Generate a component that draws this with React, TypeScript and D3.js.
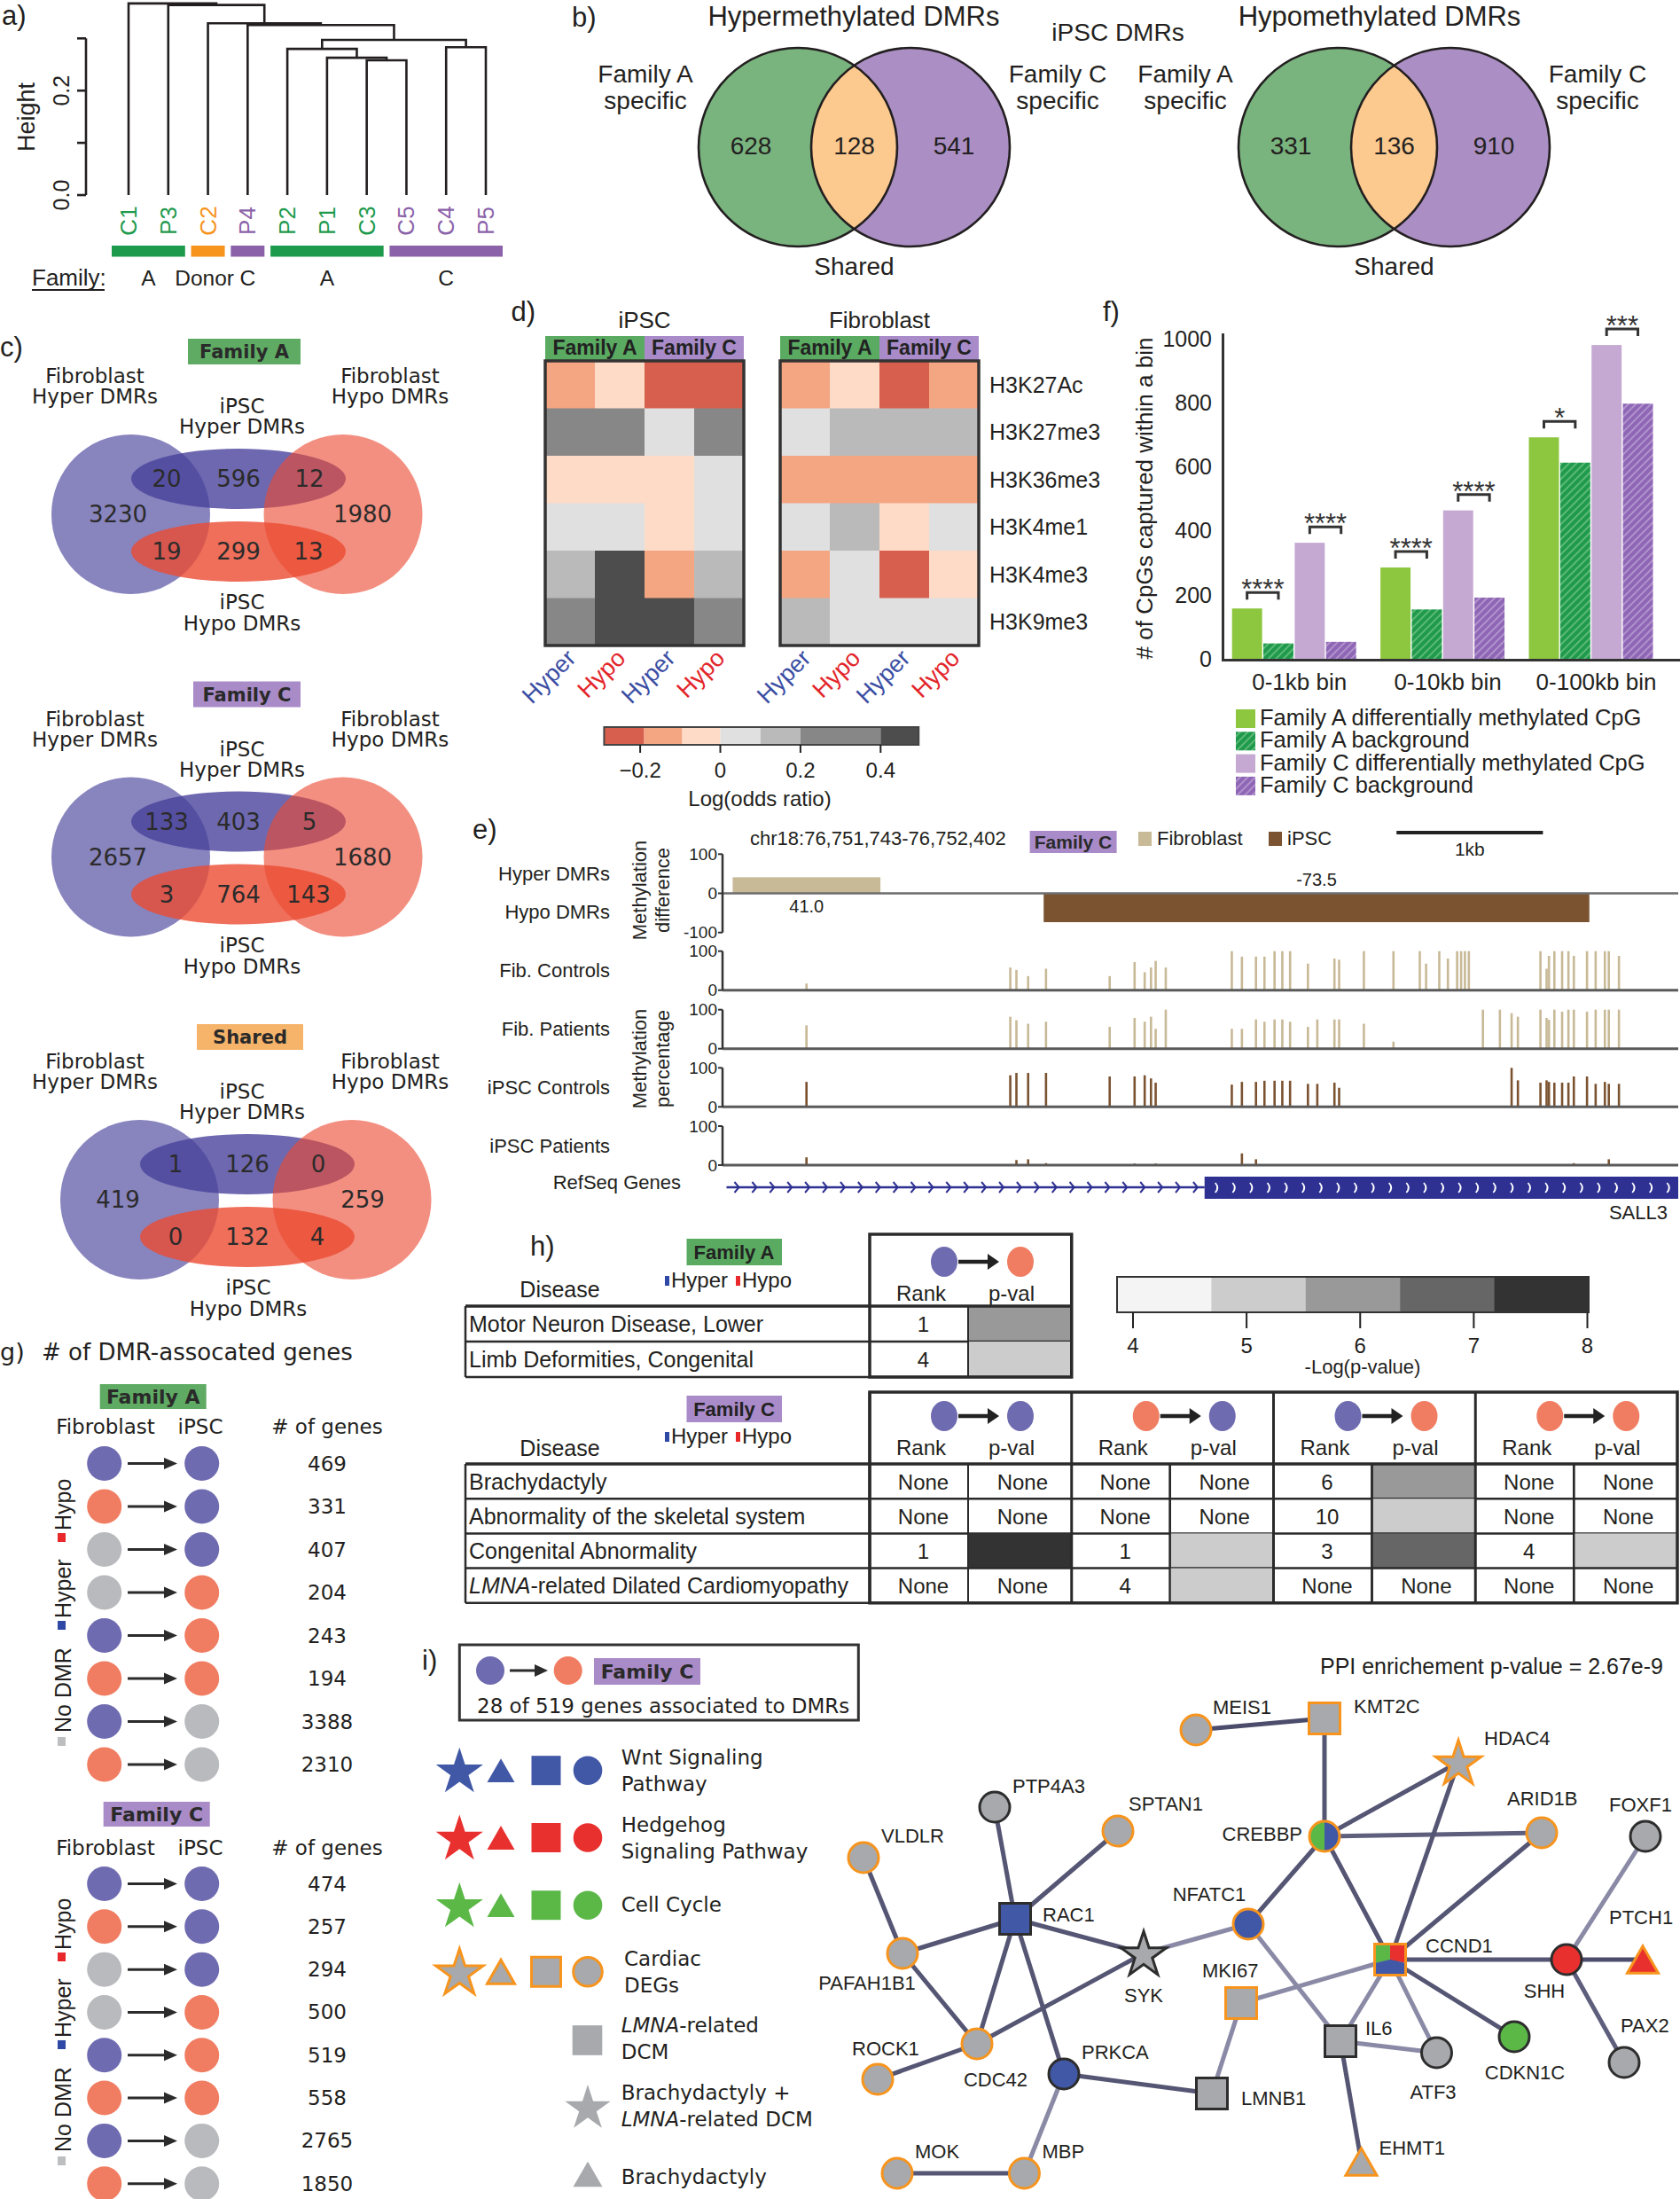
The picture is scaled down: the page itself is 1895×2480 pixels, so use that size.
import React from "react";
import * as d3 from "d3";

const SANS = "'Liberation Sans', Arial, Helvetica, sans-serif";
const WIDE = "'DejaVu Sans', Verdana, sans-serif";
const INK = "#231f20";

/* ---------------- a) dendrogram ---------------- */
const leafNames = ["C1", "P3", "C2", "P4", "P2", "P1", "C3", "C5", "C4", "P5"];
const leafFamily = ["A", "A", "D", "C", "A", "A", "A", "C", "C", "C"];
const mergeLeft = [-7, -6, -5, -9, 3, -4, -3, -2, -1];
const mergeRight = [-8, 1, 2, -10, 4, 5, 6, 7, 8];
const mergeHeight = [0.258, 0.263, 0.28, 0.283, 0.297, 0.3255, 0.329, 0.364, 0.367];
const heightTicks = [0, 0.1, 0.2, 0.3];
const heightTickLabels = ["0.0", "", "0.2", ""];
const famGroupLabel = ["A", "Donor", "C", "A", "C"];
const famGroupKey = ["A", "D", "C", "A", "C"];
const famGroupFirst = [0, 2, 3, 4, 7];
const famGroupLast = [1, 2, 3, 6, 9];
const famColor: any = { A: "#1e9a4c", D: "#f7941d", C: "#8b62a9" };

/* ---------------- b) ---------------- */
const bTitles = ["Hypermethylated DMRs", "Hypomethylated DMRs"];
const bFamilyASpecific = [628, 331];
const bShared = [128, 136];
const bFamilyCSpecific = [541, 910];

/* ---------------- c) ---------------- */
const cTitles = ["Family A", "Family C", "Shared"];
const cTitleColors = ["#5fab64", "#a98bc8", "#f6b46a"];
const cFibHyperOnly = [3230, 2657, 419];
const cFibHypoOnly = [1980, 1680, 259];
const cIpscHyperOnly = [596, 403, 126];
const cIpscHypoOnly = [299, 764, 132];
const cFibHyperIpscHyper = [20, 133, 1];
const cFibHypoIpscHyper = [12, 5, 0];
const cFibHyperIpscHypo = [19, 3, 0];
const cFibHypoIpscHypo = [13, 143, 4];

/* ---------------- d) ---------------- */
const histMarks = ["H3K27Ac", "H3K27me3", "H3K36me3", "H3K4me1", "H3K4me3", "H3K9me3"];
const dColumns = ["Hyper", "Hypo", "Hyper", "Hypo"];
const ipscLogOR = [
  [-0.15, -0.05, -0.25, -0.25],
  [0.3, 0.3, 0.05, 0.3],
  [-0.05, -0.05, -0.05, 0.05],
  [0.05, 0.05, -0.05, 0.05],
  [0.15, 0.45, -0.15, 0.15],
  [0.3, 0.45, 0.45, 0.3],
];
const fibLogOR = [
  [-0.15, -0.05, -0.25, -0.15],
  [0.05, 0.15, 0.15, 0.15],
  [-0.15, -0.15, -0.15, -0.15],
  [0.05, 0.15, -0.05, 0.05],
  [-0.15, 0.05, -0.25, -0.05],
  [0.15, 0.05, 0.05, 0.05],
];
const orBreaks = [-0.19, -0.095, 0, 0.1, 0.2, 0.4];
const orColors = ["#d6604d", "#f4a582", "#fddbc7", "#e0e0e0", "#bababa", "#878787", "#4d4d4d"];
const orExtent = [-0.29, 0.495];
const orTicks = [-0.2, 0, 0.2, 0.4];
const orTickLabels = ["\u22120.2", "0", "0.2", "0.4"];

/* ---------------- e) ---------------- */
const cpgPos = [546, 1938, 1980, 2060, 2182, 2617, 2787, 2856, 2899, 2931, 3000, 3451, 3520, 3616, 3674, 3743, 3796, 3849, 3971, 4035, 4152, 4184, 4353, 4555, 4735, 4778, 4868, 4927, 4990, 5017, 5043, 5070, 5166, 5282, 5362, 5405, 5559, 5601, 5617, 5654, 5707, 5750, 5787, 5877, 5936, 5999, 6026, 6095];
const fibCtrl = [17, 58, 52, 36, 55, 36, 72, 46, 58, 75, 58, 100, 86, 86, 86, 100, 100, 100, 68, null, 81, 78, 100, 100, 100, 68, 100, 81, 100, 100, 100, 100, null, null, null, null, 100, 55, 88, 100, 100, 100, 88, 100, 100, 100, 100, 88];
const fibPat = [60, 82, 73, 64, 69, 56, 79, 69, 82, 51, 100, 51, 51, 75, 69, 75, 75, 69, 56, 75, 75, 75, 64, 18, null, null, null, null, null, null, null, null, 100, 100, 91, 82, 100, 79, 74, 100, 95, 100, 100, 95, 100, 100, 100, 100];
const ipscCtrl = [64, 81, 87, 87, 87, 78, 78, 81, 73, 62, null, 57, 64, 64, 67, 67, 67, 67, 59, 59, 62, 49, null, null, null, null, null, null, null, null, null, null, null, null, 100, 68, 62, 68, 64, 62, 62, 62, 78, 78, 59, 64, 59, 59];
const ipscPat = [20, null, 13, 15, 5, null, 4, null, null, 4, null, null, 30, 15, null, null, null, null, null, null, null, null, null, null, null, null, null, null, null, null, null, null, null, null, null, null, null, null, null, null, null, null, 5, null, null, null, 15, null];
const trackNames = ["Fib. Controls", "Fib. Patients", "iPSC Controls", "iPSC Patients"];
const trackTissue = ["Fibroblast", "Fibroblast", "iPSC", "iPSC"];
const dmrStart = [42, 2166];
const dmrEnd = [1051, 5893];
const dmrDiff = [41.0, -73.5];
const dmrTissue = ["Fibroblast", "iPSC"];
const geneStart = 0;
const exonStart = 3265;
const geneEnd = 6500;
const scaleBarStart = 4576;
const tissueColor: any = { Fibroblast: "#c8b997", iPSC: "#7b5331" };

/* ---------------- f) ---------------- */
const fBins = ["0-1kb bin", "0-10kb bin", "0-100kb bin"];
const fSeries = ["Family A differentially methylated CpG", "Family A background", "Family C differentially methylated CpG", "Family C background"];
const fFamADM = [157, 285, 691];
const fFamABg = [48, 154, 612];
const fFamCDM = [362, 463, 979];
const fFamCBg = [53, 191, 796];
const fSigA = ["****", "****", "*"];
const fSigC = ["****", "****", "***"];
const fTicks = [0, 200, 400, 600, 800, 1000];

/* ---------------- g) ---------------- */
const gFib = ["hyper", "hypo", "none", "none", "hyper", "hypo", "hyper", "hypo"];
const gIpsc = ["hyper", "hyper", "hyper", "hypo", "hypo", "hypo", "none", "none"];
const gCountsA = [469, 331, 407, 204, 243, 194, 3388, 2310];
const gCountsC = [474, 257, 294, 500, 519, 558, 2765, 1850];

/* ---------------- h) ---------------- */
const hDiseasesA = ["Motor Neuron Disease, Lower", "Limb Deformities, Congenital"];
const hRankA = ["1", "4"];
const hLogPA = [6.0, 5.1];
const hDiseasesC = ["Brachydactyly", "Abnormality of the skeletal system", "Congenital Abnormality", "LMNA-related Dilated Cardiomyopathy"];
const hTransFrom = ["hyper", "hypo", "hyper", "hypo"];
const hTransTo = ["hyper", "hyper", "hypo", "hypo"];
const hRankC = [
  [null, null, "6", null],
  [null, null, "10", null],
  ["1", "1", "3", "4"],
  [null, "4", null, null],
];
const hLogPC = [
  [null, null, 6.0, null],
  [null, null, 5.1, null],
  [7.8, 5.1, 7.0, 5.1],
  [null, 5.1, null, null],
];
const pColors = ["#f4f4f4", "#cccccc", "#999999", "#666666", "#333333"];
const pDomain = [3.86, 8];
const pTicks = [4, 5, 6, 7, 8];

/* ---------------- i) ---------------- */
const iGenes = ["MEIS1", "KMT2C", "HDAC4", "PTP4A3", "SPTAN1", "VLDLR", "CREBBP", "ARID1B", "FOXF1", "RAC1", "NFATC1", "SYK", "PAFAH1B1", "CCND1", "SHH", "PTCH1", "MKI67", "IL6", "ATF3", "CDKN1C", "PAX2", "ROCK1", "CDC42", "PRKCA", "LMNB1", "EHMT1", "MOK", "MBP"];
const iLayoutX = [389, 534, 685, 162, 301, 14, 534, 779, 896, 185, 448, 330, 58, 608, 807, 893, 440, 552, 660.5, 748, 872, 30, 142, 240, 407, 575.5, 52, 195.4];
const iLayoutY = [51, 38, 87.5, 138, 165, 195, 171, 167, 171, 264, 270, 303, 303, 310, 310, 310, 359, 402, 415, 397, 426, 445, 405, 439, 461, 538, 551, 551];
const iShape = ["circle", "square", "star", "circle", "circle", "circle", "circle", "circle", "circle", "square", "circle", "star", "circle", "square", "circle", "triangle", "square", "square", "circle", "circle", "circle", "circle", "circle", "circle", "square", "triangle", "circle", "circle"];
const iPathways = [[], [], [], [], [], [], ["cell", "wnt"], [], [], ["wnt"], ["wnt"], [], [], ["cell", "hedgehog", "wnt"], ["hedgehog"], ["hedgehog"], [], [], [], ["cell"], [], [], [], ["wnt"], [], [], [], []];
const iCardiacDEG = [1, 1, 1, 0, 1, 1, 1, 1, 0, 0, 1, 0, 1, 1, 0, 1, 1, 0, 0, 0, 0, 1, 1, 0, 0, 1, 1, 1];
const iLabelDx = [19, 33, 29, 20, 12, 20, -25, -39, -41, 31, -44, 0, -40, 40, -25, -38, -44, 28, -4, 12, -4, -29, 21, 20, 33, 20, 20, 20];
const iLabelDy = [-18, -6, -20, -16, -23, -17, 5, -31, -28, 3, -26, 55, 41, -8, 43, -40, -29, -7, 52, 48, -34, -27, 48, -17, 13, -8, -17, -17];
const iLabelAnchor = ["start", "start", "start", "start", "start", "start", "end", "start", "start", "start", "middle", "middle", "middle", "start", "middle", "start", "start", "start", "middle", "middle", "start", "start", "middle", "start", "start", "start", "start", "start"];
const iEdgeFrom = ["MEIS1", "KMT2C", "CREBBP", "CREBBP", "CREBBP", "CREBBP", "HDAC4", "ARID1B", "PTP4A3", "SPTAN1", "VLDLR", "RAC1", "RAC1", "RAC1", "RAC1", "PAFAH1B1", "SYK", "SYK", "NFATC1", "CCND1", "CCND1", "CCND1", "CCND1", "CCND1", "SHH", "SHH", "SHH", "MKI67", "IL6", "IL6", "PRKCA", "PRKCA", "ROCK1", "MOK"];
const iEdgeTo = ["KMT2C", "CREBBP", "HDAC4", "ARID1B", "NFATC1", "CCND1", "CCND1", "CCND1", "RAC1", "RAC1", "PAFAH1B1", "PAFAH1B1", "SYK", "CDC42", "PRKCA", "CDC42", "NFATC1", "CDC42", "IL6", "SHH", "MKI67", "IL6", "ATF3", "CDKN1C", "PTCH1", "FOXF1", "PAX2", "LMNB1", "ATF3", "EHMT1", "LMNB1", "MBP", "CDC42", "MBP"];
const iEdgeScore = [0.95, 0.9, 0.9, 0.85, 0.9, 0.9, 0.9, 0.9, 0.9, 0.9, 0.9, 0.9, 0.9, 0.9, 0.9, 0.9, 0.6, 0.9, 0.6, 0.9, 0.6, 0.6, 0.6, 0.9, 0.95, 0.6, 0.85, 0.6, 0.6, 0.9, 0.9, 0.6, 0.9, 0.9];
const iLegendLabels = [["Wnt Signaling", "Pathway"], ["Hedgehog", "Signaling Pathway"], ["Cell Cycle"], ["Cardiac", "DEGs"]];
const iLegendKey = ["wnt", "hedgehog", "cell", "deg"];

const PATH_COLOR: any = { wnt: "#4158a6", hedgehog: "#e8302f", cell: "#5bb847", none: "#a7a9ac" };
const DEG_ORANGE = "#f7941d";
const NODE_DARK = "#2d2d2d";
const STATE_COLOR: any = { hyper: "#6f6bb0", hypo: "#f07d62", none: "#b9babd" };
const MARK_BLUE = "#2e49a5";
const MARK_RED = "#e8282b";

/* ---------------- helpers ---------------- */
function Arrow({ x1, x2, y, w = 3, head = 14, half = 7, color = "#2b2b2b" }: any) {
  return (
    <g>
      <line x1={x1} x2={x2 - head + 1} y1={y} y2={y} stroke={color} strokeWidth={w} />
      <path d={`M${x2},${y}L${x2 - head},${y - half}L${x2 - head},${y + half}Z`} fill={color} />
    </g>
  );
}

function lmnaText(s: string) {
  if (s.startsWith("LMNA")) {
    return [<tspan key="i" fontStyle="italic">LMNA</tspan>, <tspan key="r">{s.slice(4)}</tspan>];
  }
  return s;
}

function symbolPath(shape: string, size: number) {
  if (shape === "star") {
    const ka = 0.8908130915292852;
    return d3.symbol().type(d3.symbolStar).size((size * size) / ka)() as string;
  }
  if (shape === "triangle") {
    return d3.symbol().type(d3.symbolTriangle).size((size * size * Math.sqrt(3)) / 4)() as string;
  }
  return "";
}

function Shape({ shape, cx, cy, size, fill, stroke, sw, clipId, parts }: any) {
  let outline: any;
  if (shape === "circle") outline = <circle cx={cx} cy={cy} r={size} />;
  else if (shape === "square") outline = <rect x={cx - size} y={cy - size} width={2 * size} height={2 * size} />;
  else {
    const dy = shape === "triangle" ? size / (2 * Math.sqrt(3)) / 2 : 2;
    outline = <path transform={`translate(${cx},${cy + dy})`} d={symbolPath(shape, size)} />;
  }
  const withProps = (el: any, props: any) => React.cloneElement(el, props);
  if (parts && parts.length > 1) {
    const start = parts.length === 2 ? Math.PI : 4.485;
    const weights = parts.length === 2 ? [1, 1] : [1, 1, 1.5];
    const pie = d3.pie<number>().sort(null).value((v) => v).startAngle(start).endAngle(start + 2 * Math.PI);
    const arcs = pie(weights);
    const arc = d3.arc<any>().innerRadius(0).outerRadius(size * 2);
    return (
      <g>
        <defs>
          <clipPath id={clipId}>{outline}</clipPath>
        </defs>
        <g clipPath={`url(#${clipId})`}>
          {arcs.map((a, k) => (
            <path key={k} transform={`translate(${cx},${cy})`} d={arc(a) as string} fill={PATH_COLOR[parts[k]]} />
          ))}
        </g>
        {withProps(outline, { fill: "none", stroke, strokeWidth: sw })}
      </g>
    );
  }
  return withProps(outline, { fill, stroke: stroke || "none", strokeWidth: sw || 0 });
}

/* ---------------- a) ---------------- */
function PanelA() {
  const x = d3.scalePoint<string>().domain(leafNames).range([145, 548]);
  const y = d3.scaleLinear().domain([0, 0.3]).range([220, 43.3]);
  const nodeX: number[] = [];
  const pos = (id: number) =>
    id < 0 ? { x: x(leafNames[-id - 1]) as number, h: 0 } : { x: nodeX[id - 1], h: mergeHeight[id - 1] };
  const paths = mergeHeight.map((h, i) => {
    const l = pos(mergeLeft[i]);
    const r = pos(mergeRight[i]);
    nodeX.push((l.x + r.x) / 2);
    return `M${l.x},${y(l.h)}V${y(h)}H${r.x}V${y(r.h)}`;
  });
  return (
    <g>
      <text x={2} y={28} fontSize={31}>a)</text>
      {paths.map((p, i) => (
        <path key={i} d={p} fill="none" stroke={INK} strokeWidth={2.6} />
      ))}
      <line x1={97} x2={97} y1={y(0)} y2={y(0.3)} stroke={INK} strokeWidth={2.6} />
      {heightTicks.map((t, i) => (
        <g key={i}>
          <line x1={87} x2={97} y1={y(t)} y2={y(t)} stroke={INK} strokeWidth={2.6} />
          {heightTickLabels[i] ? (
            <text transform={`translate(78,${y(t)}) rotate(-90)`} textAnchor="middle" fontSize={25}>
              {heightTickLabels[i]}
            </text>
          ) : null}
        </g>
      ))}
      <text transform="translate(39,132) rotate(-90)" textAnchor="middle" fontSize={27}>Height</text>
      {leafNames.map((n, i) => (
        <text key={n} transform={`translate(${(x(n) as number) + 9},249) rotate(-90)`} textAnchor="middle" fontSize={26} fill={famColor[leafFamily[i]]}>
          {n}
        </text>
      ))}
      {famGroupLabel.map((lab, i) => {
        const x0 = (x(leafNames[famGroupFirst[i]]) as number) - 19;
        const x1 = (x(leafNames[famGroupLast[i]]) as number) + 19;
        return (
          <g key={i}>
            <rect x={x0} y={277} width={x1 - x0} height={12.5} fill={famColor[famGroupKey[i]]} />
            <text x={(x0 + x1) / 2 + (lab === "Donor" ? -4 : 0)} y={322} textAnchor="middle" fontSize={24.5}>{lab}</text>
          </g>
        );
      })}
      <text x={36} y={322} fontSize={26}>Family:</text>
      <line x1={36} x2={118} y1={327} y2={327} stroke={INK} strokeWidth={2} />
    </g>
  );
}

/* ---------------- b) ---------------- */
function PanelB() {
  const r = 112;
  const cy = 166;
  const sep = 127;
  const cxA = [900, 1509];
  const titleX = [963, 1556];
  return (
    <g>
      <text x={645} y={30} fontSize={31}>b)</text>
      <text x={1261} y={46} textAnchor="middle" fontSize={28}>iPSC DMRs</text>
      {bTitles.map((t, i) => {
        const a = cxA[i];
        const c = cxA[i] + sep;
        const m = (a + c) / 2;
        return (
          <g key={t}>
            <defs>
              <clipPath id={`bclip${i}`}>
                <circle cx={a} cy={cy} r={r} />
              </clipPath>
            </defs>
            <circle cx={a} cy={cy} r={r} fill="#79b37e" />
            <circle cx={c} cy={cy} r={r} fill="#ab8fc4" />
            <circle cx={c} cy={cy} r={r} fill="#fcc98f" clipPath={`url(#bclip${i})`} />
            <circle cx={a} cy={cy} r={r} fill="none" stroke={INK} strokeWidth={2.6} />
            <circle cx={c} cy={cy} r={r} fill="none" stroke={INK} strokeWidth={2.6} />
            <text x={titleX[i]} y={29} textAnchor="middle" fontSize={31}>{t}</text>
            <text x={a - 172} y={93} textAnchor="middle" fontSize={28}>Family A</text>
            <text x={a - 172} y={123} textAnchor="middle" fontSize={28}>specific</text>
            <text x={c + 166} y={93} textAnchor="middle" fontSize={28}>Family C</text>
            <text x={c + 166} y={123} textAnchor="middle" fontSize={28}>specific</text>
            <text x={a - 53} y={164} textAnchor="middle" dominantBaseline="central" fontSize={28}>{bFamilyASpecific[i]}</text>
            <text x={m} y={164} textAnchor="middle" dominantBaseline="central" fontSize={28}>{bShared[i]}</text>
            <text x={c + 49} y={164} textAnchor="middle" dominantBaseline="central" fontSize={28}>{bFamilyCSpecific[i]}</text>
            <text x={m} y={310} textAnchor="middle" fontSize={28}>Shared</text>
          </g>
        );
      })}
    </g>
  );
}

/* ---------------- c) ---------------- */
const cOffsetY = [0, 386.5, 773];
const cShiftX = [0, 0, 10];
const cBoxCx = [275.5, 278.5, 282];
const cBoxW = [127, 121, 120];
function PanelC() {
  const blue = "rgb(72,66,155)";
  const red = "rgb(235,75,50)";
  return (
    <g fontFamily={WIDE}>
      <text x={0} y={402} fontSize={31} fontFamily={SANS}>c)</text>
      {cTitles.map((title, k) => {
        const sx = cShiftX[k];
        const nums = [
          [133, 580, cFibHyperOnly[k]],
          [409, 580, cFibHypoOnly[k]],
          [269 + sx, 540, cIpscHyperOnly[k]],
          [269 + sx, 622, cIpscHypoOnly[k]],
          [188 + sx, 540, cFibHyperIpscHyper[k]],
          [349 + sx, 540, cFibHypoIpscHyper[k]],
          [188 + sx, 622, cFibHyperIpscHypo[k]],
          [348 + sx, 622, cFibHypoIpscHypo[k]],
        ];
        return (
          <g key={title} transform={`translate(0,${cOffsetY[k]})`}>
            <rect x={cBoxCx[k] - cBoxW[k] / 2} y={382} width={cBoxW[k]} height={29} fill={cTitleColors[k]} />
            <text x={cBoxCx[k]} y={404} textAnchor="middle" fontSize={21} fontWeight="bold" fill="#2a2a2a">{title}</text>
            <text x={107} y={432} textAnchor="middle" fontSize={23}>Fibroblast</text>
            <text x={107} y={455} textAnchor="middle" fontSize={23}>Hyper DMRs</text>
            <text x={440} y={432} textAnchor="middle" fontSize={23}>Fibroblast</text>
            <text x={440} y={455} textAnchor="middle" fontSize={23}>Hypo DMRs</text>
            <text x={273} y={466} textAnchor="middle" fontSize={23}>iPSC</text>
            <text x={273} y={489} textAnchor="middle" fontSize={23}>Hyper DMRs</text>
            <ellipse cx={147.5 + sx} cy={580} rx={89.5} ry={90} fill={blue} fillOpacity={0.65} />
            <ellipse cx={269 + sx} cy={540} rx={121} ry={34} fill={blue} fillOpacity={0.8} />
            <ellipse cx={269 + sx} cy={622} rx={121} ry={34} fill={red} fillOpacity={0.8} />
            <ellipse cx={387 + sx} cy={580} rx={89.5} ry={90} fill={red} fillOpacity={0.62} />
            {nums.map((n, j) => (
              <text key={j} x={n[0]} y={n[1]} textAnchor="middle" dominantBaseline="central" fontSize={26} fill="#2b2b2b">{n[2]}</text>
            ))}
            <text x={273 + sx * 0.7} y={687} textAnchor="middle" fontSize={23}>iPSC</text>
            <text x={273 + sx * 0.7} y={711} textAnchor="middle" fontSize={23}>Hypo DMRs</text>
          </g>
        );
      })}
    </g>
  );
}

/* ---------------- d) ---------------- */
function Heatmap({ x0, title, data, showRows }: any) {
  const xs = d3.scaleBand<number>().domain(d3.range(4)).range([x0, x0 + 224]);
  const ys = d3.scaleBand<string>().domain(histMarks).range([407, 728]);
  const color = d3.scaleThreshold<number, string>().domain(orBreaks).range(orColors);
  const bw = xs.bandwidth();
  return (
    <g>
      <text x={x0 + 112} y={370} textAnchor="middle" fontSize={26}>{title}</text>
      <rect x={xs(0)} y={379} width={bw * 2} height={27} fill="#5aab61" />
      <rect x={xs(2)} y={379} width={bw * 2} height={27} fill="#a98bc9" />
      <text x={(xs(0) as number) + bw} y={400} textAnchor="middle" fontSize={23} fontWeight="bold" fill="#222">Family A</text>
      <text x={(xs(2) as number) + bw} y={400} textAnchor="middle" fontSize={23} fontWeight="bold" fill="#222">Family C</text>
      {histMarks.map((m, r) =>
        dColumns.map((c, j) => (
          <rect key={`${m}${j}`} x={xs(j)} y={ys(m)} width={bw + 0.5} height={ys.bandwidth() + 0.5} fill={color(data[r][j])} />
        ))
      )}
      <rect x={x0} y={407} width={224} height={321} fill="none" stroke="#333" strokeWidth={3.5} />
      {dColumns.map((c, j) => (
        <text key={j} transform={`translate(${(xs(j) as number) + bw / 2 + 8},744) rotate(-45)`} textAnchor="end" fontSize={27} fill={c === "Hyper" ? "#3b4ea3" : "#e3262b"}>
          {c}
        </text>
      ))}
      {showRows
        ? histMarks.map((m) => (
            <text key={m} x={1116} y={(ys(m) as number) + ys.bandwidth() / 2} dominantBaseline="central" fontSize={25}>{m}</text>
          ))
        : null}
    </g>
  );
}

function PanelD() {
  const cb = d3.scaleLinear().domain([0, 0.4]).range([812.5, 993.3]);
  const edges = [orExtent[0], ...orBreaks, orExtent[1]];
  return (
    <g>
      <text x={604} y={362} textAnchor="end" fontSize={31}>d)</text>
      <Heatmap x0={615} title="iPSC" data={ipscLogOR} showRows={false} />
      <Heatmap x0={880} title="Fibroblast" data={fibLogOR} showRows={true} />
      {orColors.map((c, i) => (
        <rect key={c} x={cb(edges[i])} y={820} width={cb(edges[i + 1]) - cb(edges[i])} height={20} fill={c} />
      ))}
      <rect x={cb(orExtent[0])} y={820} width={cb(orExtent[1]) - cb(orExtent[0])} height={20} fill="none" stroke="#444" strokeWidth={2} />
      {orTicks.map((t, i) => (
        <g key={t}>
          <line x1={cb(t)} x2={cb(t)} y1={840} y2={849} stroke="#222" strokeWidth={2} />
          <text x={cb(t)} y={877} textAnchor="middle" fontSize={24}>{orTickLabels[i]}</text>
        </g>
      ))}
      <text x={857} y={909} textAnchor="middle" fontSize={24}>Log(odds ratio)</text>
    </g>
  );
}

/* ---------------- e) ---------------- */
function PanelE() {
  const x = d3.scaleLinear().domain([0, 6500]).range([819.5, 1893]);
  const yDiff = d3.scaleLinear().domain([-100, 100]).range([1051.7, 963.3]);
  const tracks = [fibCtrl, fibPat, ipscCtrl, ipscPat];
  const trackBase = [1116.7, 1182.7, 1248.3, 1314];
  const trackH = 44;
  const chevL = d3.range(x(geneStart) + 12, x(exonStart) - 6, 19.9);
  const chevR = d3.range(x(exonStart) + 14, 1893, 19.6);
  return (
    <g>
      <text x={533} y={946} fontSize={31}>e)</text>
      <text x={846} y={953} fontSize={22}>chr18:76,751,743-76,752,402</text>
      <rect x={1161.6} y={937} width={98} height={25} fill="#a98bc9" />
      <text x={1210.5} y={957} textAnchor="middle" fontSize={21} fontWeight="bold" fill="#2a2a2a">Family C</text>
      <rect x={1284} y={938} width={15} height={16} fill={tissueColor.Fibroblast} />
      <text x={1305} y={953} fontSize={22}>Fibroblast</text>
      <rect x={1431} y={938} width={15} height={16} fill={tissueColor.iPSC} />
      <text x={1452} y={953} fontSize={22}>iPSC</text>
      <line x1={x(scaleBarStart)} x2={x(scaleBarStart + 1000)} y1={939} y2={939} stroke="#222" strokeWidth={4} />
      <text x={x(scaleBarStart + 500)} y={965} textAnchor="middle" fontSize={21}>1kb</text>

      <text x={688} y={985} textAnchor="end" dominantBaseline="central" fontSize={22}>Hyper DMRs</text>
      <text x={688} y={1028} textAnchor="end" dominantBaseline="central" fontSize={22}>Hypo DMRs</text>
      <g transform="translate(0,1004)">
        <text transform="translate(729,0) rotate(-90)" textAnchor="middle" fontSize={22}>Methylation</text>
        <text transform="translate(755,0) rotate(-90)" textAnchor="middle" fontSize={22}>difference</text>
      </g>
      {dmrDiff.map((v, i) => (
        <g key={i}>
          <rect x={x(dmrStart[i])} y={Math.min(yDiff(v), yDiff(0))} width={x(dmrEnd[i]) - x(dmrStart[i])} height={Math.abs(yDiff(v) - yDiff(0))} fill={tissueColor[dmrTissue[i]]} />
          <text x={(x(dmrStart[i]) + x(dmrEnd[i])) / 2} y={v > 0 ? 1029 : 999} textAnchor="middle" fontSize={20}>{v.toFixed(1)}</text>
        </g>
      ))}
      <line x1={815} x2={1893} y1={yDiff(0)} y2={yDiff(0)} stroke="#6d6d6d" strokeWidth={2.5} />
      <line x1={815} x2={815} y1={yDiff(100)} y2={yDiff(-100)} stroke="#333" strokeWidth={2.5} />
      {[100, 0, -100].map((t) => (
        <g key={t}>
          <line x1={810} x2={815} y1={yDiff(t)} y2={yDiff(t)} stroke="#333" strokeWidth={2} />
          <text x={809} y={yDiff(t)} textAnchor="end" dominantBaseline="central" fontSize={19}>{t}</text>
        </g>
      ))}

      <g transform="translate(0,1194)">
        <text transform="translate(729,0) rotate(-90)" textAnchor="middle" fontSize={22}>Methylation</text>
        <text transform="translate(755,0) rotate(-90)" textAnchor="middle" fontSize={22}>percentage</text>
      </g>
      {tracks.map((vals, ti) => {
        const y = d3.scaleLinear().domain([0, 100]).range([trackBase[ti], trackBase[ti] - trackH]);
        return (
          <g key={ti}>
            <text x={688} y={trackBase[ti] - 22} textAnchor="end" dominantBaseline="central" fontSize={22}>{trackNames[ti]}</text>
            {vals.map((v, k) =>
              v == null ? null : (
                <line key={k} x1={x(cpgPos[k])} x2={x(cpgPos[k])} y1={y(0)} y2={y(v)} stroke={tissueColor[trackTissue[ti]]} strokeWidth={2.6} />
              )
            )}
            <line x1={815} x2={1893} y1={y(0)} y2={y(0)} stroke="#5a5a5a" strokeWidth={3} />
            <line x1={815} x2={815} y1={y(0)} y2={y(100)} stroke="#333" strokeWidth={2.5} />
            {[100, 0].map((t) => (
              <g key={t}>
                <line x1={810} x2={815} y1={y(t)} y2={y(t)} stroke="#333" strokeWidth={2} />
                <text x={809} y={y(t)} textAnchor="end" dominantBaseline="central" fontSize={19}>{t}</text>
              </g>
            ))}
          </g>
        );
      })}

      <text x={768} y={1333} textAnchor="end" dominantBaseline="central" fontSize={22}>RefSeq Genes</text>
      <line x1={x(geneStart)} x2={x(exonStart)} y1={1339} y2={1339} stroke="#2e3192" strokeWidth={2.5} />
      {chevL.map((cx, k) => (
        <path key={k} d={`M${cx - 3},${1333}L${cx + 2},${1339}L${cx - 3},${1345}`} fill="none" stroke="#2e3192" strokeWidth={2} />
      ))}
      <rect x={x(exonStart)} y={1327} width={x(geneEnd) - x(exonStart)} height={25} fill="#2e3192" />
      {chevR.map((cx, k) => (
        <path key={k} d={`M${cx - 2},${1334}Q${cx + 3},${1339.5} ${cx - 2},${1345}`} fill="none" stroke="#fff" strokeWidth={1.8} />
      ))}
      <text x={1881} y={1375} textAnchor="end" fontSize={22}>SALL3</text>
    </g>
  );
}

/* ---------------- f) ---------------- */
function PanelF() {
  const x0 = d3.scaleBand<string>().domain(fBins).range([1389.7, 1864.5]).paddingInner(0.164);
  const x1 = d3.scaleBand<string>().domain(fSeries).range([0, x0.bandwidth()]).paddingInner(0.04);
  const y = d3.scaleLinear().domain([0, 1000]).range([743, 381.5]);
  const values = [fFamADM, fFamABg, fFamCDM, fFamCBg];
  const fills = ["#8dc63f", "url(#hatchA)", "#c5a9d2", "url(#hatchC)"];
  const bw = x1.bandwidth();
  const bracket = (g: number, s1: number, s2: number, label: string, key: string) => {
    const xa = (x0(fBins[g]) as number) + (x1(fSeries[s1]) as number) + bw / 2;
    const xb = (x0(fBins[g]) as number) + (x1(fSeries[s2]) as number) + bw / 2;
    const top = y(Math.max(values[s1][g], values[s2][g])) - 18;
    return (
      <g key={key}>
        <path d={`M${xa},${top + 8}V${top}H${xb}V${top + 8}`} fill="none" stroke="#333" strokeWidth={3} />
        <text x={(xa + xb) / 2} y={top + 7} textAnchor="middle" fontSize={31} fill="#333">{label}</text>
      </g>
    );
  };
  return (
    <g>
      <defs>
        <pattern id="hatchA" patternUnits="userSpaceOnUse" width={6} height={6} patternTransform="rotate(45)">
          <rect width={6} height={6} fill="#1f9a4b" />
          <line x1={1} y1={0} x2={1} y2={6} stroke="#7cc98f" strokeWidth={1.3} />
        </pattern>
        <pattern id="hatchC" patternUnits="userSpaceOnUse" width={6} height={6} patternTransform="rotate(45)">
          <rect width={6} height={6} fill="#8e66b5" />
          <line x1={1} y1={0} x2={1} y2={6} stroke="#c3aad9" strokeWidth={1.3} />
        </pattern>
      </defs>
      <text x={1244} y={362} fontSize={31}>f)</text>
      {fBins.map((b, g) =>
        fSeries.map((s, k) => (
          <rect key={b + s} x={(x0(b) as number) + (x1(s) as number)} y={y(values[k][g])} width={bw} height={y(0) - y(values[k][g])} fill={fills[k]} />
        ))
      )}
      {fBins.map((b, g) => [bracket(g, 0, 1, fSigA[g], `a${g}`), bracket(g, 2, 3, fSigC[g], `c${g}`)])}
      <line x1={1379.5} x2={1379.5} y1={376} y2={744.5} stroke="#333" strokeWidth={3} />
      <line x1={1378} x2={1895} y1={744.5} y2={744.5} stroke="#333" strokeWidth={3} />
      {fTicks.map((t) => (
        <text key={t} x={1367} y={y(t)} textAnchor="end" dominantBaseline="central" fontSize={25}>{t}</text>
      ))}
      <text transform="translate(1300,562) rotate(-90)" textAnchor="middle" fontSize={26}># of CpGs captured within a bin</text>
      {fBins.map((b) => (
        <text key={b} x={(x0(b) as number) + x0.bandwidth() / 2 + 6} y={778} textAnchor="middle" fontSize={26}>{b}</text>
      ))}
      {fSeries.map((s, k) => (
        <g key={s}>
          <rect x={1394} y={800 + k * 25.3} width={22} height={21} fill={fills[k]} />
          <text x={1421} y={818 + k * 25.3} fontSize={25.5}>{s}</text>
        </g>
      ))}
    </g>
  );
}

/* ---------------- g) ---------------- */
function GBlock({ title, boxX, boxY, boxColor, headerY, rowY0, rowY1, counts, sideCy }: any) {
  const ry = d3.scaleLinear().domain([0, 7]).range([rowY0, rowY1]);
  const sideItems = [
    { color: "#bcbec0", label: "No DMR", x0: -151, tx: -136 },
    { color: MARK_BLUE, label: "Hyper", x0: -20, tx: -7 },
    { color: MARK_RED, label: "Hypo", x0: 79, tx: 92 },
  ];
  return (
    <g>
      <rect x={boxX} y={boxY} width={120} height={28} fill={boxColor} />
      <text x={boxX + 60} y={boxY + 22} textAnchor="middle" fontSize={22} fontWeight="bold" fill="#2a2a2a">{title}</text>
      <text x={119} y={headerY} textAnchor="middle" fontSize={23}>Fibroblast</text>
      <text x={226} y={headerY} textAnchor="middle" fontSize={23}>iPSC</text>
      <text x={369} y={headerY} textAnchor="middle" fontSize={23}># of genes</text>
      {counts.map((c: number, i: number) => (
        <g key={i}>
          <circle cx={117.7} cy={ry(i)} r={19.5} fill={STATE_COLOR[gFib[i]]} />
          <Arrow x1={144} x2={200} y={ry(i)} w={3} head={15} half={6.5} />
          <circle cx={227.7} cy={ry(i)} r={19.5} fill={STATE_COLOR[gIpsc[i]]} />
          <text x={369} y={ry(i)} textAnchor="middle" dominantBaseline="central" fontSize={23}>{c}</text>
        </g>
      ))}
      <g transform={`translate(80,${sideCy}) rotate(-90)`} fontFamily={SANS}>
        {sideItems.map((s) => (
          <g key={s.label}>
            <rect x={s.x0} y={-15} width={10} height={9} fill={s.color} />
            <text x={s.tx} y={0} fontSize={25}>{s.label}</text>
          </g>
        ))}
      </g>
    </g>
  );
}

function PanelG() {
  return (
    <g fontFamily={WIDE}>
      <text x={0} y={1534} fontSize={27}>g)</text>
      <text x={47} y={1534} fontSize={26}># of DMR-assocated genes</text>
      <GBlock title="Family A" boxX={112.7} boxY={1561} boxColor="#5fab64" headerY={1617} rowY0={1650.5} rowY1={1990} counts={gCountsA} sideCy={1818} />
      <GBlock title="Family C" boxX={116.7} boxY={2032} boxColor="#a98bc8" headerY={2091.5} rowY0={2124.5} rowY1={2462.7} counts={gCountsC} sideCy={2291} />
    </g>
  );
}

/* ---------------- h) ---------------- */
function HLegendMarks({ x, y }: any) {
  return (
    <g>
      <rect x={x} y={y - 13} width={5} height={11} fill={MARK_BLUE} />
      <text x={x + 7} y={y} fontSize={24}>Hyper</text>
      <rect x={x + 80} y={y - 13} width={5} height={11} fill={MARK_RED} />
      <text x={x + 87} y={y} fontSize={24}>Hypo</text>
    </g>
  );
}

function PanelH() {
  const pColor = d3.scaleQuantize<string>().domain(pDomain).range(pColors);
  const cbx = d3.scaleLinear().domain([4, 8]).range([1278, 1790.5]);
  const left = 525;
  const dRight = 981;
  const groupW = 227.75;
  const rankW = 111;
  const aTop = 1392, aHead = 1473, aRowH = 40;
  const aBottom = aHead + aRowH * hDiseasesA.length;
  const cTop = 1570, cHead = 1651, cRowH = 39.2;
  const cBottom = cHead + cRowH * hDiseasesC.length;
  const cRight = dRight + groupW * 4;
  const headCircles = (gx: number, cy: number, from: string, to: string, key: string) => (
    <g key={key}>
      <ellipse cx={gx + 84} cy={cy} rx={15} ry={17} fill={STATE_COLOR[from]} />
      <Arrow x1={gx + 100} x2={gx + 146} y={cy} w={4.5} head={13} half={9} color="#222" />
      <ellipse cx={gx + 170} cy={cy} rx={15} ry={17} fill={STATE_COLOR[to]} />
      <text x={gx + 58} y={cy + 44} textAnchor="middle" fontSize={24}>Rank</text>
      <text x={gx + 160} y={cy + 44} textAnchor="middle" fontSize={24}>p-val</text>
    </g>
  );
  const gridStroke = "#2a2a2a";
  return (
    <g>
      <text x={598} y={1416} fontSize={31}>h)</text>
      <rect x={774.5} y={1397} width={107.5} height={30} fill="#5aab61" />
      <text x={828} y={1420} textAnchor="middle" fontSize={22} fontWeight="bold" fill="#222">Family A</text>
      <HLegendMarks x={750} y={1452} />
      <text x={631.5} y={1463} textAnchor="middle" fontSize={25}>Disease</text>
      {headCircles(dRight, 1423, "hyper", "hypo", "ha")}
      {hDiseasesA.map((d, i) => {
        const y0 = aHead + i * aRowH;
        return (
          <g key={d}>
            <rect x={dRight + rankW} y={y0} width={groupW - rankW} height={aRowH} fill={pColor(hLogPA[i])} />
            <text x={529} y={y0 + aRowH / 2 + 9} fontSize={25}>{d}</text>
            <text x={dRight + rankW / 2 + 5} y={y0 + aRowH / 2 + 9} textAnchor="middle" fontSize={24}>{hRankA[i]}</text>
            <line x1={left} x2={dRight + groupW} y1={y0 + aRowH} y2={y0 + aRowH} stroke={gridStroke} strokeWidth={2.5} />
          </g>
        );
      })}
      <line x1={left} x2={dRight + groupW} y1={aHead} y2={aHead} stroke={gridStroke} strokeWidth={3.5} />
      <line x1={left} x2={left} y1={aHead} y2={aBottom} stroke={gridStroke} strokeWidth={2.5} />
      <line x1={dRight + rankW} x2={dRight + rankW} y1={aHead} y2={aBottom} stroke={gridStroke} strokeWidth={2} />
      <rect x={dRight} y={aTop} width={groupW} height={aBottom - aTop} fill="none" stroke={gridStroke} strokeWidth={3.5} />

      {pColors.map((c, i) => {
        const w = (1792 - 1260) / pColors.length;
        return <rect key={c} x={1260 + i * w} y={1440} width={w + 0.5} height={40} fill={c} />;
      })}
      <rect x={1260} y={1440} width={532} height={40} fill="none" stroke="#333" strokeWidth={2} />
      {pTicks.map((t) => (
        <g key={t}>
          <line x1={cbx(t)} x2={cbx(t)} y1={1480} y2={1498} stroke="#222" strokeWidth={2} />
          <text x={cbx(t)} y={1526} textAnchor="middle" fontSize={24}>{t}</text>
        </g>
      ))}
      <text x={1537} y={1549} textAnchor="middle" fontSize={22}>-Log(p-value)</text>

      <rect x={774.5} y={1574} width={107.5} height={30} fill="#a98bc9" />
      <text x={828} y={1597} textAnchor="middle" fontSize={22} fontWeight="bold" fill="#222">Family C</text>
      <HLegendMarks x={750} y={1628} />
      <text x={631.5} y={1642} textAnchor="middle" fontSize={25}>Disease</text>
      {hTransFrom.map((f, g) => headCircles(dRight + g * groupW, 1597, f, hTransTo[g], `hc${g}`))}
      {hDiseasesC.map((d, i) => {
        const y0 = cHead + i * cRowH;
        return (
          <g key={d}>
            {hTransFrom.map((f, g) => {
              const gx = dRight + g * groupW;
              const lp = hLogPC[i][g];
              const rk = hRankC[i][g];
              return (
                <g key={g}>
                  {lp != null ? <rect x={gx + rankW} y={y0} width={groupW - rankW} height={cRowH} fill={pColor(lp)} /> : null}
                  <text x={gx + rankW / 2 + 5} y={y0 + cRowH / 2 + 9} textAnchor="middle" fontSize={24}>{rk == null ? "None" : rk}</text>
                  {lp == null ? (
                    <text x={gx + rankW + (groupW - rankW) / 2 + 3} y={y0 + cRowH / 2 + 9} textAnchor="middle" fontSize={24}>None</text>
                  ) : null}
                  <line x1={gx + rankW} x2={gx + rankW} y1={cHead} y2={cBottom} stroke={gridStroke} strokeWidth={2} />
                </g>
              );
            })}
            <text x={529} y={y0 + cRowH / 2 + 9} fontSize={25}>{lmnaText(d)}</text>
            <line x1={left} x2={cRight} y1={y0 + cRowH} y2={y0 + cRowH} stroke={gridStroke} strokeWidth={2.5} />
          </g>
        );
      })}
      <line x1={left} x2={cRight} y1={cHead} y2={cHead} stroke={gridStroke} strokeWidth={3.5} />
      <line x1={left} x2={left} y1={cHead} y2={cBottom} stroke={gridStroke} strokeWidth={2.5} />
      {hTransFrom.map((f, g) => (
        <line key={g} x1={dRight + g * groupW} x2={dRight + g * groupW} y1={cTop} y2={cBottom} stroke={gridStroke} strokeWidth={3} />
      ))}
      <rect x={dRight} y={cTop} width={cRight - dRight} height={cBottom - cTop} fill="none" stroke={gridStroke} strokeWidth={3.5} />
    </g>
  );
}

/* ---------------- i) ---------------- */
function PanelI() {
  const nx = d3.scaleLinear().domain([0, 900]).range([960, 1860]);
  const ny = d3.scaleLinear().domain([0, 600]).range([1900, 2500]);
  const idx = new Map(iGenes.map((g, i) => [g, i]));
  const edgeColor = d3.scaleLinear<string>().domain([0.6, 0.95]).range(["#8a8aa6", "#4c4c6c"]);
  const nodeSize = (s: string) => (s === "circle" ? 17 : s === "square" ? 17.5 : s === "star" ? 27 : 35);
  const legendRows = [1996.7, 2072.5, 2148.7, 2223.75];
  const legendShapes = ["star", "triangle", "square", "circle"];
  const legendX = [518.3, 565, 616, 663];
  const legendSize = [28, 31, 16.5, 16.3];
  return (
    <g>
      <text x={476} y={1883} fontSize={31}>i)</text>
      <rect x={518.3} y={1855} width={450} height={85} fill="none" stroke="#333" strokeWidth={3} />
      <circle cx={553} cy={1884} r={16} fill={STATE_COLOR.hyper} />
      <Arrow x1={575} x2={618} y={1884} w={3} head={15} half={7} />
      <circle cx={640.7} cy={1884} r={16} fill={STATE_COLOR.hypo} />
      <rect x={670} y={1870} width={120} height={30} fill="#a98bc8" />
      <text x={730} y={1893} textAnchor="middle" fontSize={22} fontWeight="bold" fill="#2a2a2a" fontFamily={WIDE}>Family C</text>
      <text x={538} y={1932} fontSize={23} fontFamily={WIDE}>{`${iGenes.length} of 519 genes associated to DMRs`}</text>

      <g fontFamily={WIDE}>
        {iLegendKey.map((k, r) => (
          <g key={k}>
            {legendShapes.map((s, j) => (
              <Shape key={s} shape={s} cx={legendX[j]} cy={legendRows[r]} size={legendSize[j]} fill={k === "deg" ? PATH_COLOR.none : PATH_COLOR[k]} stroke={k === "deg" ? DEG_ORANGE : null} sw={k === "deg" ? 3 : 0} />
            ))}
            {iLegendLabels[r].map((t, l) => (
              <text key={t} x={k === "deg" ? 704 : 700.7} y={iLegendLabels[r].length === 1 ? legendRows[r] + 7.5 : legendRows[r] - 7 + l * 30.5} fontSize={23}>{t}</text>
            ))}
          </g>
        ))}
        <Shape shape="square" cx={662.5} cy={2301} size={16.8} fill={PATH_COLOR.none} />
        <text x={700.7} y={2291.7} fontSize={23}><tspan fontStyle="italic">LMNA</tspan>-related</text>
        <text x={700.7} y={2321.7} fontSize={23}>DCM</text>
        <Shape shape="star" cx={663} cy={2376} size={27} fill={PATH_COLOR.none} />
        <text x={700.7} y={2367.5} fontSize={23}>Brachydactyly +</text>
        <text x={700.7} y={2397.5} fontSize={23}><tspan fontStyle="italic">LMNA</tspan>-related DCM</text>
        <Shape shape="triangle" cx={663} cy={2452} size={33} fill={PATH_COLOR.none} />
        <text x={700.7} y={2462.5} fontSize={23}>Brachydactyly</text>
      </g>

      <text x={1876} y={1888} textAnchor="end" fontSize={25}>PPI enrichement p-value = 2.67e-9</text>

      {iEdgeFrom.map((f, e) => {
        const a = idx.get(f) as number;
        const b = idx.get(iEdgeTo[e]) as number;
        return (
          <line key={e} x1={nx(iLayoutX[a])} y1={ny(iLayoutY[a])} x2={nx(iLayoutX[b])} y2={ny(iLayoutY[b])} stroke={edgeColor(iEdgeScore[e])} strokeWidth={5} />
        );
      })}
      {iGenes.map((g, i) => {
        const cx = nx(iLayoutX[i]);
        const cy = ny(iLayoutY[i]);
        const pw = iPathways[i];
        const fill = pw.length === 1 ? PATH_COLOR[pw[0]] : PATH_COLOR.none;
        const stroke = iCardiacDEG[i] ? DEG_ORANGE : NODE_DARK;
        return (
          <g key={g}>
            <Shape shape={iShape[i]} cx={cx} cy={cy} size={nodeSize(iShape[i])} fill={fill} stroke={stroke} sw={3} parts={pw.length > 1 ? pw : null} clipId={`nclip${i}`} />
            <text x={cx + iLabelDx[i]} y={cy + iLabelDy[i]} textAnchor={iLabelAnchor[i]} fontSize={22}>{g}</text>
          </g>
        );
      })}
    </g>
  );
}

export default function App() {
  return (
    <svg width={1895} height={2480} viewBox="0 0 1895 2480" style={{ position: "absolute", left: 0, top: 0, background: "#fff" }} fontFamily={SANS} fill={INK}>
      <rect x={0} y={0} width={1895} height={2480} fill="#fff" />
      <PanelA />
      <PanelB />
      <PanelC />
      <PanelD />
      <PanelE />
      <PanelF />
      <PanelG />
      <PanelH />
      <PanelI />
    </svg>
  );
}
